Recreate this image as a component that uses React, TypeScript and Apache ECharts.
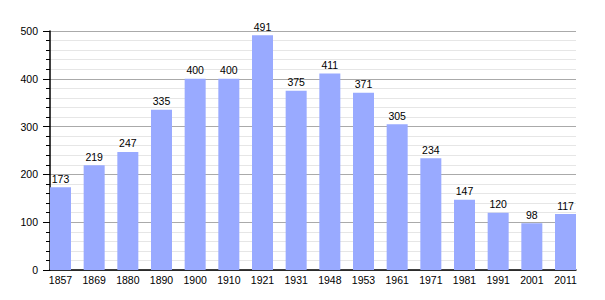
import React, { useEffect, useRef } from "react";
import * as echarts from "echarts";

const years = ["1857", "1869", "1880", "1890", "1900", "1910", "1921", "1931", "1948", "1953", "1961", "1971", "1981", "1991", "2001", "2011"];
const population = [173, 219, 247, 335, 400, 400, 491, 375, 411, 371, 305, 234, 147, 120, 98, 117];
const yTicks = [0, 100, 200, 300, 400, 500];

export default function App() {
  const ref = useRef<HTMLDivElement>(null);
  useEffect(() => {
    if (!ref.current) return;
    const chart = echarts.init(ref.current, null, { renderer: "svg" });
    const font = "Liberation Sans, Arial, sans-serif";
    const pad = 157.5 / 505;
    chart.setOption({
      animation: false,
      grid: { left: 50, right: 29, top: 31, bottom: 30 },
      xAxis: {
        type: "value",
        min: -pad,
        max: years.length - 1 + pad,
        axisLine: { show: true, onZero: false, lineStyle: { color: "#000", width: 1.5 } },
        axisTick: { show: false },
        minorTick: { show: false },
        splitLine: { show: false },
        axisLabel: {
          customValues: years.map((_, i) => i),
          formatter: (v: number) => years[Math.round(v)],
          color: "#000",
          fontFamily: font,
          fontSize: 10.5,
          margin: 4,
        },
      },
      yAxis: {
        type: "value",
        min: yTicks[0],
        max: yTicks[yTicks.length - 1],
        interval: 100,
        axisLine: { show: true, onZero: false, lineStyle: { color: "#000", width: 1.5 } },
        axisTick: { show: true, length: 7, lineStyle: { color: "#000", width: 1 } },
        minorTick: { show: true, splitNumber: 5, length: 4, lineStyle: { color: "#000", width: 1 } },
        splitLine: { show: true, lineStyle: { color: "#aaaaaa", width: 1 } },
        minorSplitLine: { show: true, lineStyle: { color: "#e6e6e6", width: 1 } },
        axisLabel: {
          color: "#000",
          fontFamily: font,
          fontSize: 10.5,
          margin: 12,
        },
      },
      series: [
        {
          type: "bar",
          barWidth: 21,
          data: population.map((v, i) => [i, v]),
          itemStyle: { color: "#99aaff" },
          label: {
            show: true,
            position: "top",
            distance: 3,
            color: "#000",
            fontFamily: font,
            fontSize: 10.5,
            formatter: (p: any) => String(p.value[1]),
          },
        },
      ],
    });
    return () => chart.dispose();
  }, []);
  return <div ref={ref} style={{ position: "fixed", left: 0, top: 0, width: 605, height: 300, background: "#fff" }} />;
}
